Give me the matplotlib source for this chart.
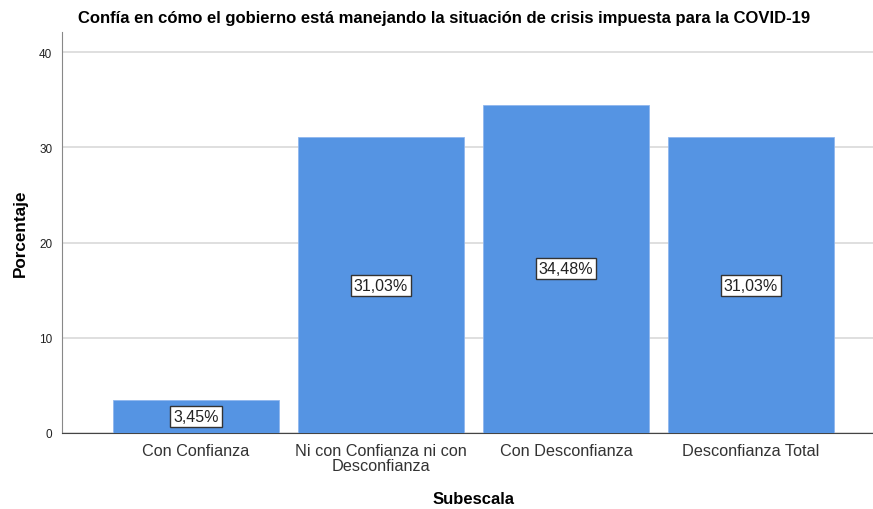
import numpy as np
import matplotlib.pyplot as plt

plt.rcParams['font.family'] = ['Liberation Sans', 'DejaVu Sans']

categories = ['Con Confianza', 'Ni con Confianza ni con\nDesconfianza',
              'Con Desconfianza', 'Desconfianza Total']
percentages = [3.45, 31.03, 34.48, 31.03]
yticks = [0, 10, 20, 30, 40]

fig = plt.figure(figsize=(8.73, 5.10), dpi=100)
ax = fig.add_axes([62 / 873, 1 - 434 / 510, 811 / 873, 401 / 510])

x = np.arange(len(categories))
ax.bar(x, percentages, width=0.9, color='#5594e3', edgecolor='#8fb6ee',
       linewidth=0.6, zorder=3)

for xi, v in zip(x, percentages):
    ax.text(xi, v / 2, f'{v:.2f}%'.replace('.', ','), ha='center', va='center',
            fontsize=11.5, color='#222222', zorder=4,
            bbox=dict(boxstyle='square,pad=0.18', fc='white', ec='#333333', lw=1.0))

ax.set_xlim(-0.724, 3.66)
ax.set_ylim(0, 42.1)
ax.set_yticks(yticks)
ax.yaxis.grid(True, color='#d9d9d9', linewidth=1.2, zorder=0)
ax.set_axisbelow(True)

ax.set_xticks(x)
ax.set_xticklabels(categories, fontsize=11.7, color='#333333', linespacing=1.0)
ax.tick_params(axis='x', length=0, pad=7)
ax.tick_params(axis='y', length=0, labelsize=8.5, labelcolor='#222222', pad=7)

for s in ['top', 'right']:
    ax.spines[s].set_visible(False)
ax.spines['left'].set_color('#888888')
ax.spines['bottom'].set_color('#444444')

fig.text(474 / 873, 1 - 500 / 510, 'Subescala', ha='center', va='center',
         fontsize=12, fontweight='bold')
fig.text(20 / 873, 1 - 233 / 510, 'Porcentaje', ha='center', va='center',
         rotation=90, fontsize=12.3, fontweight='bold')
fig.text(444 / 873, 1 - 18 / 510,
         'Confía en cómo el gobierno está manejando la situación de crisis impuesta para la COVID-19',
         ha='center', va='center', fontsize=12, fontweight='bold')

fig.savefig('out.png', dpi=100)
